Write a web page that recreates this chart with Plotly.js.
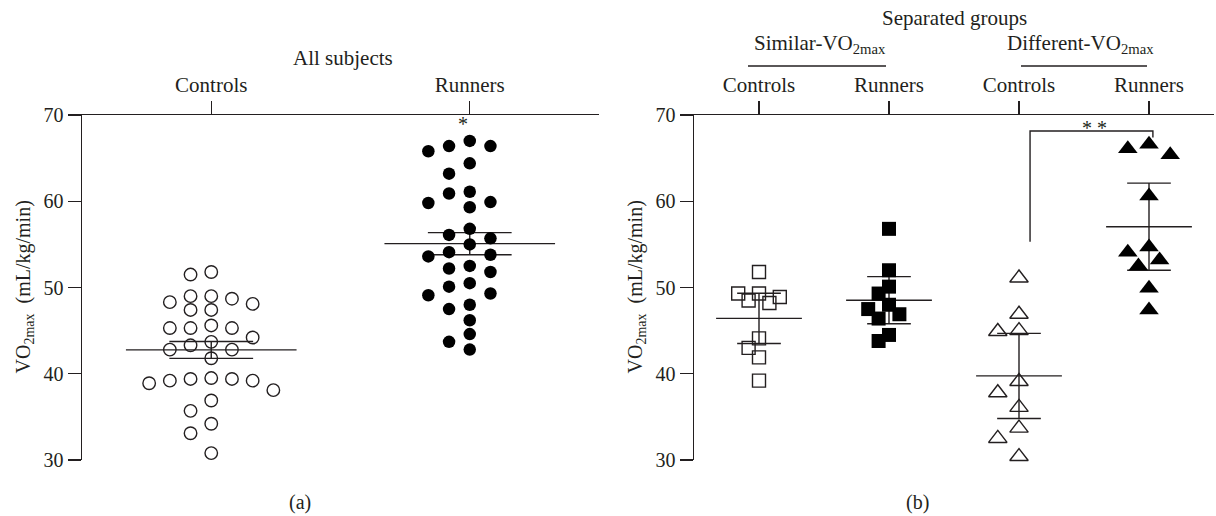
<!DOCTYPE html>
<html><head><meta charset="utf-8">
<script src="https://cdn.plot.ly/plotly-3.0.1.min.js"></script>
<style>html,body{margin:0;padding:0;background:#fff}#chart{width:1216px;height:516px}</style>
</head><body><div id="chart"></div>
<script>
// ---------- data ----------
const groupsA = ['Controls', 'Runners'];
const controlsAll = [51.8, 51.5, 49.0, 48.7, 48.1, 48.3, 49.0, 47.4, 47.4, 45.6, 45.3, 45.3, 45.3, 44.2, 43.7,
  42.8, 42.8, 43.3, 41.8, 39.5, 39.4, 38.9, 39.2, 39.4, 38.1, 39.2, 36.9, 35.7, 34.2, 33.1, 30.8];
const runnersAll = [67.0, 66.4, 65.8, 66.4, 64.4, 63.2, 60.9, 59.8, 59.3, 59.9, 61.1, 56.8, 56.1, 55.7, 55.0,
  54.1, 53.6, 53.8, 52.2, 51.8, 52.5, 50.1, 50.5, 49.1, 49.3, 48.0, 47.5, 46.2, 44.6, 42.8, 43.7];

const groupsB = ['Controls', 'Runners', 'Controls', 'Runners'];
const similarControls = [51.8, 48.9, 49.3, 49.3, 48.2, 48.5, 44.1, 43.0, 41.9, 39.2];
const similarRunners = [56.8, 52.0, 50.1, 49.3, 48.0, 46.9, 47.5, 46.4, 44.5, 43.8];
const differentControls = [51.1, 46.9, 44.9, 45.0, 39.1, 37.8, 36.1, 33.7, 32.5, 30.4];
const differentRunners = [66.1, 65.4, 66.6, 60.6, 54.7, 53.2, 54.1, 52.5, 49.9, 47.4];

const yTicks = [30, 40, 50, 60, 70];
const yRange = [30, 70];

// ---------- geometry ----------
const W = 1216, H = 516;
const PA = {x0: 82, x1: 599}, PB = {x0: 694, x1: 1214}, PY = {top: 115, bottom: 460};
const pxPerY = (PY.bottom - PY.top) / (yRange[1] - yRange[0]);
const pxPerXA = (PA.x1 - PA.x0) / 2, pxPerXB = (PB.x1 - PB.x0) / 4;
const INK = '#231f20';
const FONT = 'Liberation Serif, Times New Roman, serif';

function mean(a) { return a.reduce((s, v) => s + v, 0) / a.length; }
function sd(a) { const m = mean(a); return Math.sqrt(a.reduce((s, v) => s + (v - m) * (v - m), 0) / (a.length - 1)); }
function sem(a) { return sd(a) / Math.sqrt(a.length); }
const T95 = {9: 2.262, 10: 2.228, 30: 2.042};
function ci95(a) { return (T95[a.length - 1] || 2.0) * sem(a); }

// beeswarm placement in pixel space
function swarm(values, center, pxPerX, diam, step) {
  const order = values.map((v, i) => i).sort((a, b) => values[b] - values[a]);
  const placed = [], xs = new Array(values.length);
  for (const i of order) {
    const yp = values[i] * pxPerY;
    for (let k = 0; k < 60; k++) {
      const off = (k === 0 ? 0 : (k % 2 ? -1 : 1) * Math.ceil(k / 2)) * step;
      if (placed.every(p => Math.hypot(p.x - off, p.y - yp) >= diam)) {
        placed.push({x: off, y: yp});
        xs[i] = center + off / pxPerX;
        break;
      }
    }
  }
  return xs;
}

const traces = [];
function addGroup(values, center, xa, ya, pxPerX, errFn, capPx, marker, diam, step) {
  const m = mean(values), e = errFn(values);
  traces.push({x: [center - 0.33, center + 0.33], y: [m, m], xaxis: xa, yaxis: ya, mode: 'lines',
    line: {color: INK, width: 1.4}, hoverinfo: 'skip', showlegend: false});
  traces.push({x: [center], y: [m], xaxis: xa, yaxis: ya, mode: 'markers',
    marker: {size: 1, color: 'rgba(0,0,0,0)'}, showlegend: false, hoverinfo: 'skip',
    error_y: {type: 'data', array: [e], visible: true, color: INK, thickness: 1.4, width: capPx}});
  traces.push({x: swarm(values, center, pxPerX, diam, step), y: values, xaxis: xa, yaxis: ya,
    mode: 'markers', marker: marker, showlegend: false, cliponaxis: false});
}

const capA = 0.162 * pxPerXA, capB = 0.168 * pxPerXB;
addGroup(controlsAll, 0, 'x', 'y', pxPerXA, sem, capA,
  {symbol: 'circle-open', size: 12.5, color: INK, line: {width: 1.4, color: INK}}, 13, 20.7);
addGroup(runnersAll, 1, 'x', 'y', pxPerXA, sem, capA,
  {symbol: 'circle', size: 12.5, color: '#000'}, 13, 20.7);
addGroup(similarControls, 0, 'x2', 'y2', pxPerXB, ci95, capB,
  {symbol: 'square-open', size: 13, color: INK, line: {width: 1.4, color: INK}}, 12, 10.4);
addGroup(similarRunners, 1, 'x2', 'y2', pxPerXB, ci95, capB,
  {symbol: 'square', size: 14, color: '#000'}, 12, 10.4);
addGroup(differentControls, 2, 'x2', 'y2', pxPerXB, ci95, capB,
  {symbol: 'triangle-up-open', size: 16, color: INK, line: {width: 1.4, color: INK}}, 16, 10.6);
addGroup(differentRunners, 3, 'x2', 'y2', pxPerXB, ci95, capB,
  {symbol: 'triangle-up', size: 17, color: '#000'}, 16, 10.6);

const px2paperX = px => px / W;
const px2paperY = py => 1 - py / H;

const axisCommon = {showline: true, linecolor: INK, linewidth: 1.4, ticks: 'outside', ticklen: 13,
  tickwidth: 1.4, tickcolor: INK, showgrid: false, zeroline: false, fixedrange: true,
  tickfont: {family: FONT, size: 20, color: INK}};
const catFont = {family: FONT, size: 21, color: INK};

const layout = {
  width: W, height: H, margin: {l: 0, r: 0, t: 0, b: 0},
  paper_bgcolor: '#fff', plot_bgcolor: '#fff', showlegend: false,
  xaxis: Object.assign({}, axisCommon, {domain: [px2paperX(PA.x0), px2paperX(PA.x1)], range: [-0.5, 1.5],
    side: 'top', anchor: 'y', tickvals: [0, 1], ticktext: groupsA, tickfont: catFont}),
  yaxis: Object.assign({}, axisCommon, {domain: [px2paperY(PY.bottom), px2paperY(PY.top)], range: yRange,
    anchor: 'x', tickvals: yTicks}),
  xaxis2: Object.assign({}, axisCommon, {domain: [px2paperX(PB.x0), px2paperX(PB.x1)], range: [-0.5, 3.5],
    side: 'top', anchor: 'y2', tickvals: [0, 1, 2, 3], ticktext: groupsB, tickfont: catFont}),
  yaxis2: Object.assign({}, axisCommon, {domain: [px2paperY(PY.bottom), px2paperY(PY.top)], range: yRange,
    anchor: 'x2', tickvals: yTicks}),
  shapes: [
    {type: 'line', xref: 'paper', yref: 'paper', x0: px2paperX(748), x1: px2paperX(886),
      y0: px2paperY(66), y1: px2paperY(66), line: {color: INK, width: 1.4}},
    {type: 'line', xref: 'paper', yref: 'paper', x0: px2paperX(1021), x1: px2paperX(1147),
      y0: px2paperY(66), y1: px2paperY(66), line: {color: INK, width: 1.4}},
    {type: 'path', xref: 'x2', yref: 'y2', path: 'M2.085,55.3 L2.085,68.15 L3.03,68.15 L3.03,67.4',
      line: {color: INK, width: 1.4}}
  ],
  annotations: []
};
const ann = (text, x, y, extra) => Object.assign({text, x: px2paperX(x), y: px2paperY(y), xref: 'paper', yref: 'paper',
  showarrow: false, xanchor: 'center', yanchor: 'middle', font: catFont}, extra || {});
layout.annotations.push(
  ann('All subjects', 342.5, 58),
  ann('Separated groups', 954, 18),
  ann('Similar-VO<sub>2max</sub>', 820, 44),
  ann('Different-VO<sub>2max</sub>', 1080, 44),
  ann('(a)', 300, 502, {font: {family: FONT, size: 20, color: INK}}),
  ann('(b)', 917, 502, {font: {family: FONT, size: 20, color: INK}}),
  ann('VO<sub>2max</sub>  (mL/kg/min)', 24, 287.5, {textangle: -90, font: {family: FONT, size: 20, color: INK}}),
  ann('VO<sub>2max</sub>  (mL/kg/min)', 636, 287.5, {textangle: -90, font: {family: FONT, size: 20, color: INK}}),
  {text: '*', x: 0.974, y: 68.9, xref: 'x', yref: 'y', showarrow: false, font: {family: FONT, size: 20, color: INK}},
  {text: '* *', x: 2.577, y: 68.5, xref: 'x2', yref: 'y2', showarrow: false, font: {family: FONT, size: 20, color: INK}}
);

Plotly.newPlot('chart', traces, layout, {staticPlot: true, displayModeBar: false});
</script>
</body></html>
